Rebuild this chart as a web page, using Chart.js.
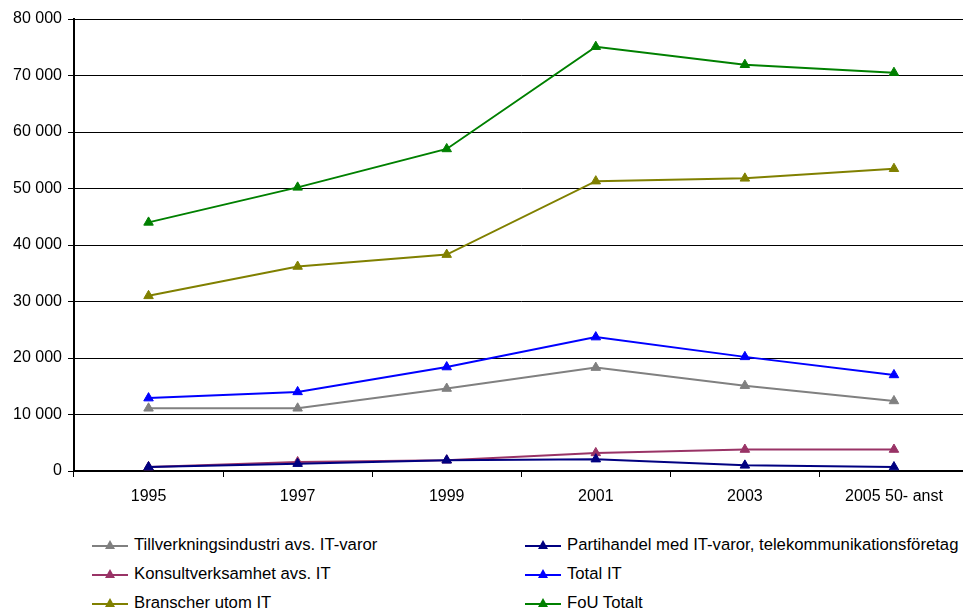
<!DOCTYPE html>
<html>
<head>
<meta charset="utf-8">
<script src="https://cdn.jsdelivr.net/npm/chart.js@4.4.1/dist/chart.umd.min.js"></script>
<style>
  html, body { margin: 0; padding: 0; overflow: hidden; background: #fff; }
  #wrap { position: relative; width: 975px; height: 609px; }
  #chart { position: absolute; left: 0; top: 0; }
  #legend { position: absolute; left: 0; top: 530px; width: 963px; height: 79px;
    font-family: "Liberation Sans", Arial, sans-serif; font-size: 16.7px; color: #000; }
  .item { position: absolute; display: flex; align-items: center; height: 20px; white-space: nowrap; }
  .item canvas { margin-right: 6px; }
</style>
</head>
<body>
<div id="wrap">
  <canvas id="chart" width="975" height="513"></canvas>
  <div id="legend"></div>
</div>
<script>
const years = ["1995", "1997", "1999", "2001", "2003", "2005 50- anst"];

const tillverkning = [11100, 11100, 14600, 18300, 15100, 12400];
const partihandel = [700, 1300, 1900, 2100, 1000, 700];
const konsult = [700, 1600, 1900, 3200, 3800, 3800];
const totalIT = [12900, 14000, 18400, 23700, 20200, 17000];
const branscher = [31000, 36200, 38300, 51300, 51800, 53500];
const fouTotalt = [44000, 50200, 57000, 75100, 71900, 70500];

const seriesNames = [
  "Tillverkningsindustri avs. IT-varor",
  "Partihandel med IT-varor, telekommunikationsföretag",
  "Konsultverksamhet avs. IT",
  "Total IT",
  "Branscher utom IT",
  "FoU Totalt"
];
const seriesColors = ["#808080", "#000080", "#993366", "#0000FF", "#808000", "#008000"];
const seriesData = [tillverkning, partihandel, konsult, totalIT, branscher, fouTotalt];

function fmt(v) {
  return String(v).replace(/\B(?=(\d{3})+(?!\d))/g, " ");
}

const datasets = seriesNames.map((name, i) => ({
  label: name,
  data: seriesData[i],
  borderColor: seriesColors[i],
  backgroundColor: seriesColors[i],
  pointBackgroundColor: seriesColors[i],
  pointBorderColor: seriesColors[i],
  pointStyle: "triangle",
  pointRadius: 5.5,
  pointBorderWidth: 1,
  borderWidth: 2,
  tension: 0
}));

const tickFont = { family: "'Liberation Sans', Arial, sans-serif", size: 16 };

new Chart(document.getElementById("chart"), {
  type: "line",
  data: { labels: years, datasets: datasets },
  options: {
    responsive: false,
    animation: false,
    layout: { padding: { top: 19, right: 4, left: 0, bottom: 0 } },
    plugins: { legend: { display: false }, tooltip: { enabled: false } },
    scales: {
      x: {
        offset: true,
        grid: { offset: true, drawOnChartArea: false, drawTicks: true, tickLength: 6, color: "#000" },
        border: { display: true, color: "#000", width: 2 },
        ticks: { font: tickFont, color: "#000", padding: 10, maxRotation: 0 },
        afterFit: s => { s.height = 42; }
      },
      y: {
        min: 0,
        max: 80000,
        grid: { color: "#000", lineWidth: 1, tickLength: 6 },
        border: { display: true, color: "#000", width: 2 },
        ticks: { stepSize: 10000, font: tickFont, color: "#000", padding: 6, callback: v => fmt(v) },
        afterFit: s => { s.width = 74; }
      }
    }
  }
});

// legend in two columns, like the original
const legend = document.getElementById("legend");
const colX = [92, 525];
const rowY = [5, 34, 63];
seriesNames.forEach((name, i) => {
  const item = document.createElement("div");
  item.className = "item";
  item.style.left = colX[i % 2] + "px";
  item.style.top = rowY[Math.floor(i / 2)] + "px";
  const c = document.createElement("canvas");
  c.width = 36; c.height = 14;
  const g = c.getContext("2d");
  g.strokeStyle = seriesColors[i];
  g.lineWidth = 2;
  g.beginPath(); g.moveTo(0, 8); g.lineTo(36, 8); g.stroke();
  g.fillStyle = seriesColors[i];
  g.beginPath(); g.moveTo(18, 2); g.lineTo(23, 11); g.lineTo(13, 11); g.closePath(); g.fill();
  item.appendChild(c);
  const t = document.createElement("span");
  t.textContent = name;
  item.appendChild(t);
  legend.appendChild(item);
});
</script>
</body>
</html>
